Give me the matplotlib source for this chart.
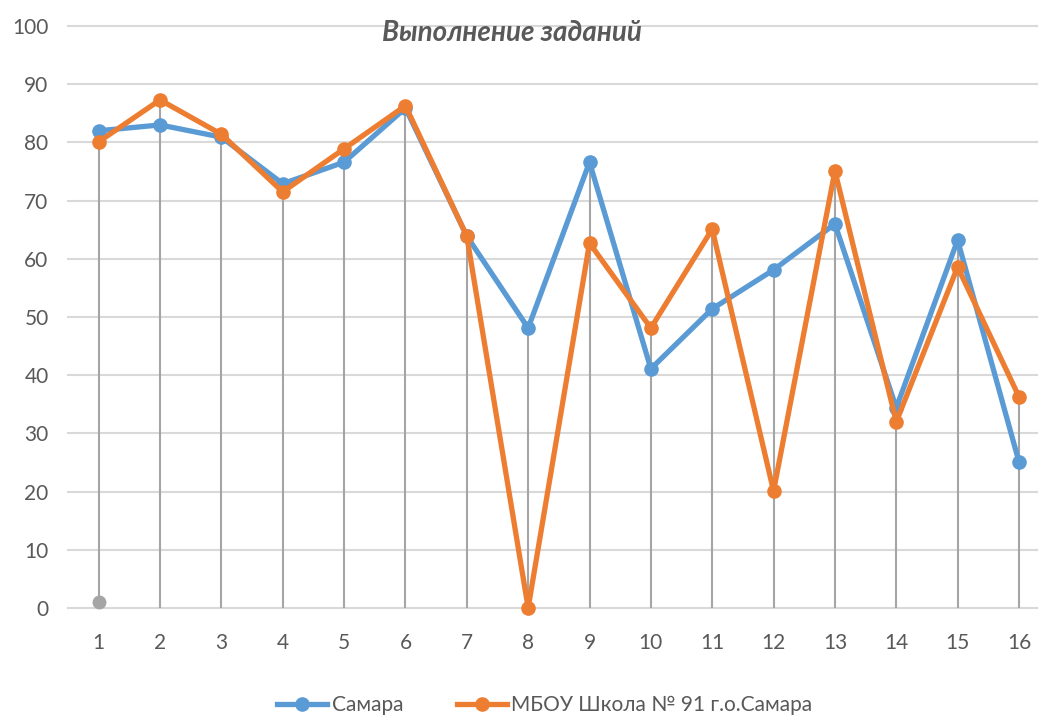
import matplotlib.pyplot as plt

plt.rcParams['font.family'] = ['Lato', 'DejaVu Sans']

tasks = list(range(1, 17))
samara = [82.0, 83.0, 80.9, 72.9, 76.6, 85.9, 63.9, 48.1, 76.6, 41.1, 51.4, 58.1, 66.0, 34.4, 63.2, 25.1]
school = [80.1, 87.3, 81.4, 71.5, 78.9, 86.3, 63.9, 0.0, 62.7, 48.1, 65.1, 20.1, 75.1, 32.0, 58.6, 36.3]
extra_x = [1]
extra_y = [1.0]

blue = '#5b9bd5'
orange = '#ed7d31'
grey = '#a5a5a5'

fig = plt.figure(figsize=(10.38, 7.18), dpi=100)
ax = fig.add_axes([68 / 1038, 1 - 608 / 718, 1 - 68 / 1038, (608 - 26) / 718])

# drop lines from the highest point down to the axis
tops = [max(a, b) for a, b in zip(samara, school)]
ax.vlines(tasks, 0, tops, color=grey, lw=1.5, zorder=2)

ax.plot(extra_x, extra_y, 'o', color=grey, ms=9, zorder=3, clip_on=False)
ax.plot(tasks, samara, '-o', color=blue, lw=3.8, ms=9.5, label='Самара', zorder=4, clip_on=False)
ax.plot(tasks, school, '-o', color=orange, lw=3.8, ms=9.5, label='МБОУ Школа № 91 г.о.Самара',
        zorder=5, clip_on=False)

ax.set_xlim(0.5, 16.31)
ax.set_ylim(0, 100)
ax.set_yticks(range(0, 101, 10))
ax.set_xticks(tasks)
ax.grid(axis='y', color='#d9d9d9', lw=1.5, zorder=0, clip_on=False)
ax.set_axisbelow(True)
for s in ax.spines.values():
    s.set_visible(False)
ax.tick_params(axis='y', length=0, labelsize=15, colors='#595959', pad=14)
ax.tick_params(axis='x', length=0, labelsize=15, colors='#595959', pad=18)

fig.text(512 / 1038, 1 - 33 / 718, 'Выполнение заданий', ha='center', va='center',
         fontsize=20, fontweight='bold', fontstyle='italic', color='#595959')

fig.legend(loc='center', bbox_to_anchor=(545 / 1038, 1 - 705 / 718), ncol=2, frameon=False,
           fontsize=15, labelcolor='#595959', handlelength=2.4, columnspacing=2.6, handletextpad=0.2)

fig.savefig('out.png', dpi=100)
